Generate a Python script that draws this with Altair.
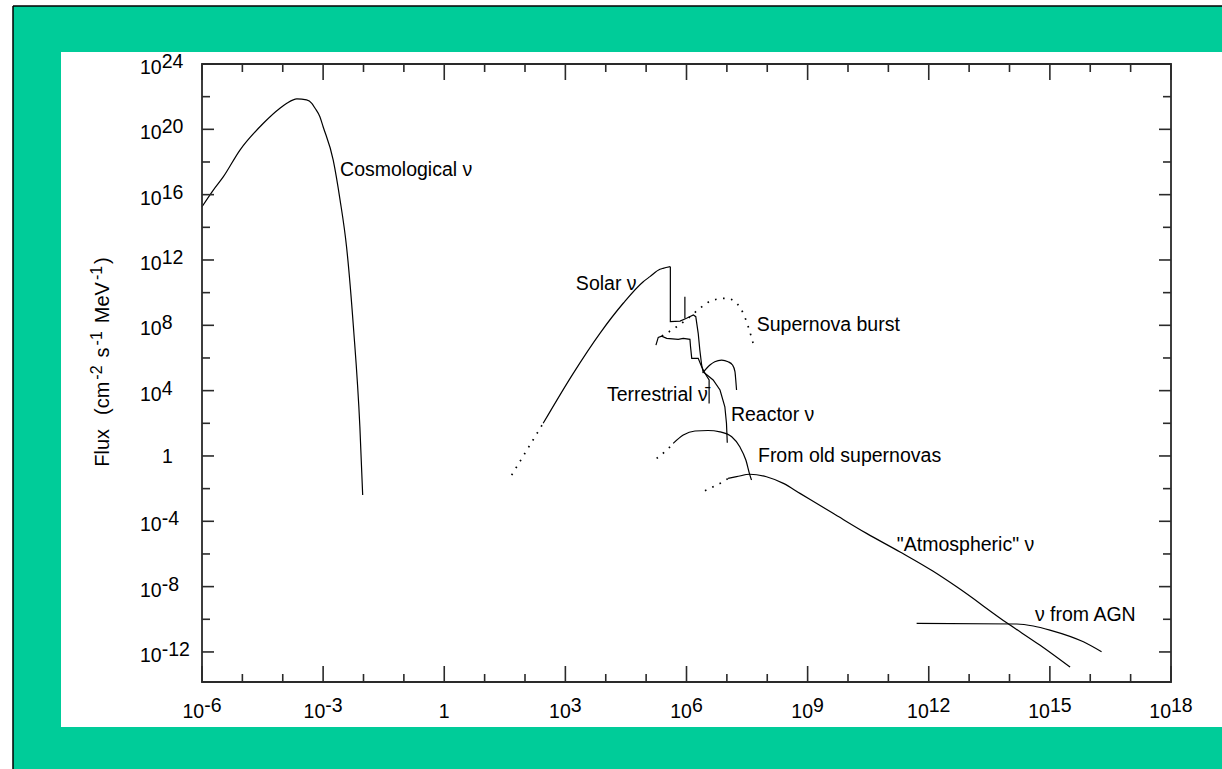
import altair as alt
import pandas as pd

# ---------------------------------------------------------------
# Neutrino fluxes vs. energy, all values as log10(E) / log10(flux)
# ---------------------------------------------------------------
cosmo_logE = [-6.0, -5.72, -5.47, -5.06, -4.48, -4.07, -3.90, -3.65, -3.41, -3.28,
              -3.20, -3.08, -3.0, -2.75, -2.58, -2.42, -2.25, -2.09, -2.02]
cosmo_logF = [15.26, 16.28, 17.10, 18.73, 20.37, 21.29, 21.59, 21.86, 21.80, 21.59,
              21.29, 20.77, 20.16, 18.12, 15.67, 12.81, 7.91, 1.79, -2.39]

solar_dot_logE = [1.67, 2.45]
solar_dot_logF = [-1.17, 2.0]
solar_rise_logE = [2.45, 3.195, 3.856, 4.433, 4.929, 5.095, 5.342, 5.42, 5.60]
solar_rise_logF = [2.0, 5.06, 7.51, 9.35, 10.67, 10.98, 11.43, 11.49, 11.59]
solar_tail_logE = [5.60, 5.60, 5.84, 6.0, 6.17, 6.23, 6.29, 6.33, 6.375, 6.41, 6.66,
                   6.83, 6.95, 6.99, 7.01]
solar_tail_logF = [11.59, 8.22, 8.26, 8.43, 8.63, 8.53, 7.51, 6.49, 5.57, 5.16, 4.65,
                   4.04, 3.01, 2.0, 0.81]
be7_logE = [5.96, 5.96]
be7_logF = [9.75, 8.43]

terr_logE = [5.243, 5.30, 5.385, 5.51, 5.795, 5.92, 6.085, 6.10, 6.13, 6.29, 6.375,
             6.457, 6.56, 6.56]
terr_logF = [6.79, 7.26, 7.34, 7.20, 7.14, 7.20, 7.14, 6.69, 5.98, 5.98, 5.46,
             5.06, 4.65, 3.22]

reactor_logE = [6.40, 6.58, 6.70, 6.87, 7.03, 7.14, 7.20, 7.22, 7.24]
reactor_logF = [5.08, 5.57, 5.77, 5.87, 5.77, 5.57, 5.16, 4.65, 4.04]

snburst_logE = [5.39, 5.755, 6.043, 6.33, 6.66, 6.99, 7.24, 7.405, 7.53, 7.65]
snburst_logF = [7.34, 7.91, 8.43, 9.04, 9.55, 9.65, 9.35, 8.73, 7.91, 6.90]

oldsn_dot_logE = [5.26, 5.51, 5.67]
oldsn_dot_logF = [-0.15, 0.36, 0.77]
oldsn_logE = [5.67, 5.92, 6.21, 6.53, 6.83, 7.12, 7.32, 7.47, 7.57, 7.61]
oldsn_logF = [0.77, 1.28, 1.53, 1.56, 1.48, 1.18, 0.56, -0.25, -1.17, -1.47]

atmo_dot_logE = [6.457, 6.70, 6.91, 7.03]
atmo_dot_logF = [-2.13, -1.84, -1.58, -1.37]
atmo_logE = [7.03, 7.24, 7.57, 7.98, 8.40, 8.81, 9.63, 10.46, 11.29, 12.10, 12.70,
             13.94, 14.75, 15.50]
atmo_logF = [-1.37, -1.27, -1.12, -1.27, -1.68, -2.29, -3.51, -4.74, -5.88, -7.05,
             -8.03, -10.23, -11.58, -12.93]

agn_logE = [11.70, 14.18, 14.59, 15.0, 15.83, 16.28]
agn_logF = [-10.25, -10.29, -10.41, -10.66, -11.38, -11.99]

# curve labels: text, log10 E of left edge, log10 flux of text middle
label_text = ["Cosmological ν", "Solar ν", "Supernova burst", "Terrestrial ν\u0304",
              "Reactor ν", "From old supernovas", "\"Atmospheric\" ν", "ν from AGN"]
label_logE = [-2.58, 3.26, 7.74, 4.03, 7.10, 7.77, 11.21, 14.63]
label_logF = [17.51, 10.53, 8.02, 3.73, 2.51, 0.0, -5.45, -9.74]

# axis decades
x_major = [-6, -3, 0, 3, 6, 9, 12, 15, 18]
x_minor = [d for d in range(-6, 19) if d % 3 != 0]
y_major = [24, 20, 16, 12, 8, 4, 0, -4, -8, -12]
y_minor = [22, 18, 14, 10, 6, 2, -2, -6, -10]
Y_BOTTOM = -13.84

# y-axis title pieces: text, superscript?, Arial advance width in em, gap after (px)
title_parts = [("Flux", False, 1.889, 14), ("(cm", False, 1.666, 2),
               ("-2", True, 0.889, 8), ("s", False, 0.5, 2),
               ("-1", True, 0.889, 8), ("MeV", False, 2.056, 2),
               ("-1", True, 0.889, 2), (")", False, 0.333, 0)]

# ---------------------------------------------------------------
W, H = 969, 618
LEFT, TOP = 202, 64
FONT = "Liberation Sans"
FS = 19.5
TITLE_FS, SUP_FS = 20, 16
GREEN = "#00CC99"
INK = "#2a2a2a"
DIGIT = 0.556 * FS
HYPHEN = 0.333 * FS

xs = alt.Scale(type="log", domain=[1e-6, 1e18])
ys = alt.Scale(type="log", domain=[10 ** Y_BOTTOM, 1e24])
one = alt.Data(values=[{}])


def series(key, logE, logF):
    return [dict(key=key, i=i, E=10.0 ** a, F=10.0 ** b)
            for i, (a, b) in enumerate(zip(logE, logF))]


smooth_rows = (series("cosmo", cosmo_logE, cosmo_logF)
               + series("solar_rise", solar_rise_logE, solar_rise_logF)
               + series("reactor", reactor_logE, reactor_logF)
               + series("oldsn", oldsn_logE, oldsn_logF)
               + series("atmo", atmo_logE, atmo_logF)
               + series("agn", agn_logE, agn_logF))
sharp_rows = (series("solar_tail", solar_tail_logE, solar_tail_logF)
              + series("be7", be7_logE, be7_logF)
              + series("terr", terr_logE, terr_logF))
dotted_rows = (series("solar_d", solar_dot_logE, solar_dot_logF)
               + series("snburst", snburst_logE, snburst_logF)
               + series("oldsn_d", oldsn_dot_logE, oldsn_dot_logF)
               + series("atmo_d", atmo_dot_logE, atmo_dot_logF))

X = alt.X("E:Q", scale=xs, axis=None)
Y = alt.Y("F:Q", scale=ys, axis=None)

layers = []

# page decoration: green border with black top/left edge, white panel
layers.append(alt.Chart(one).mark_rect(color=GREEN).encode(
    x=alt.value(13 - LEFT), x2=alt.value(1222 - LEFT), y=alt.value(6 - TOP), y2=alt.value(769 - TOP)))
layers.append(alt.Chart(one).mark_rule(color="black", strokeWidth=1.5).encode(
    x=alt.value(13 - LEFT), x2=alt.value(1222 - LEFT), y=alt.value(6 - TOP)))
layers.append(alt.Chart(one).mark_rule(color="black", strokeWidth=1.5).encode(
    x=alt.value(13 - LEFT), y=alt.value(6 - TOP), y2=alt.value(769 - TOP)))
layers.append(alt.Chart(one).mark_rect(color="white").encode(
    x=alt.value(61 - LEFT), x2=alt.value(1222 - LEFT), y=alt.value(52 - TOP), y2=alt.value(727 - TOP)))

# curves
layers.append(alt.Chart(pd.DataFrame(smooth_rows)).mark_line(
    color="black", strokeWidth=1.2, interpolate="monotone").encode(
    x=X, y=Y, detail="key:N", order="i:Q"))
layers.append(alt.Chart(pd.DataFrame(sharp_rows)).mark_line(
    color="black", strokeWidth=1.2).encode(x=X, y=Y, detail="key:N", order="i:Q"))
layers.append(alt.Chart(pd.DataFrame(dotted_rows)).mark_line(
    color="black", strokeWidth=1.7, strokeDash=[1.6, 6.5], interpolate="monotone").encode(
    x=X, y=Y, detail="key:N", order="i:Q"))

# plot frame
layers.append(alt.Chart(one).mark_rect(fill=None, stroke=INK, strokeWidth=1.8).encode(
    x=alt.value(0), x2=alt.value(W), y=alt.value(0), y2=alt.value(H)))


# inward ticks on all four sides
def vals(decades):
    return pd.DataFrame({"v": [10.0 ** d for d in decades]})


for decs, ln in ((y_major, 12), (y_minor, 8)):
    d = vals(decs)
    yv = alt.Y("v:Q", scale=ys, axis=None)
    layers.append(alt.Chart(d).mark_rule(color=INK, strokeWidth=1.6).encode(
        y=yv, x=alt.value(0), x2=alt.value(ln)))
    layers.append(alt.Chart(d).mark_rule(color=INK, strokeWidth=1.6).encode(
        y=yv, x=alt.value(W - ln), x2=alt.value(W)))
for decs, ln in ((x_major, 16), (x_minor, 8)):
    d = vals(decs)
    xv = alt.X("v:Q", scale=xs, axis=None)
    layers.append(alt.Chart(d).mark_rule(color=INK, strokeWidth=1.6).encode(
        x=xv, y=alt.value(H - ln), y2=alt.value(H)))
    layers.append(alt.Chart(d).mark_rule(color=INK, strokeWidth=1.6).encode(
        x=xv, y=alt.value(0), y2=alt.value(ln)))


# tick labels: "10" with a raised exponent of the same size
def text_style(**kw):
    base = dict(font=FONT, fontSize=FS, color="black", baseline="middle")
    base.update(kw)
    return base


ylab = pd.DataFrame({"v": [10.0 ** d for d in y_major if d != 0],
                     "base": "10",
                     "exp": [str(d) for d in y_major if d != 0]})
yv = alt.Y("v:Q", scale=ys, axis=None)
layers.append(alt.Chart(ylab).mark_text(**text_style(align="left", dy=4)).encode(
    y=yv, x=alt.value(140 - LEFT), text="base:N"))
layers.append(alt.Chart(ylab).mark_text(**text_style(align="left", dy=-2)).encode(
    y=yv, x=alt.value(140 - LEFT + 2 * DIGIT), text="exp:N"))
layers.append(alt.Chart(pd.DataFrame({"v": [1.0], "t": ["1"]})).mark_text(
    **text_style(align="left", dy=1.5)).encode(y=yv, x=alt.value(162 - LEFT), text="t:N"))


def exp_width(s):
    return sum(HYPHEN if ch == "-" else DIGIT for ch in s)


xlab = pd.DataFrame({"v": [10.0 ** d for d in x_major if d != 0],
                     "base": "10",
                     "exp": [str(d) for d in x_major if d != 0]})
xlab["shift"] = [round((2 * DIGIT - exp_width(s)) / 2, 2) for s in xlab["exp"]]
xv = alt.X("v:Q", scale=xs, axis=None)
for shift in sorted(set(xlab["shift"])):
    part = xlab[xlab["shift"] == shift]
    layers.append(alt.Chart(part).mark_text(**text_style(align="right", dx=shift)).encode(
        x=xv, y=alt.value(H + 30), text="base:N"))
    layers.append(alt.Chart(part).mark_text(**text_style(align="left", dx=shift)).encode(
        x=xv, y=alt.value(H + 24), text="exp:N"))
layers.append(alt.Chart(pd.DataFrame({"v": [1.0], "t": ["1"]})).mark_text(
    **text_style(align="center")).encode(x=xv, y=alt.value(H + 30), text="t:N"))

# y-axis title, rotated to read upwards, with raised exponents;
# the run of pieces is centred on the plot's vertical middle
runs = [(em * (SUP_FS if sup else TITLE_FS), gap) for _, sup, em, gap in title_parts]
total = sum(w + g for w, g in runs)
y_cursor = 362 + total / 2
for (txt, sup, em, gap), (w, g) in zip(title_parts, runs):
    layers.append(alt.Chart(one).mark_text(
        **text_style(align="left", angle=270, fontSize=SUP_FS if sup else TITLE_FS)).encode(
        x=alt.value((97 if sup else 103) - LEFT), y=alt.value(y_cursor - TOP),
        text=alt.value(txt)))
    y_cursor -= w + g

# curve labels
labels = pd.DataFrame({"t": label_text,
                       "E": [10.0 ** a for a in label_logE],
                       "F": [10.0 ** b for b in label_logF]})
layers.append(alt.Chart(labels).mark_text(**text_style(align="left")).encode(
    x=X, y=Y, text="t:N"))

chart = alt.layer(*layers).properties(
    width=W, height=H,
    padding={"left": LEFT, "top": TOP, "right": 1222 - LEFT - W, "bottom": 769 - TOP - H},
    autosize=alt.AutoSizeParams(type="none"),
    background="white",
).configure_view(stroke=None)

chart.save("out.html", embed_options={"renderer": "svg", "actions": False})
